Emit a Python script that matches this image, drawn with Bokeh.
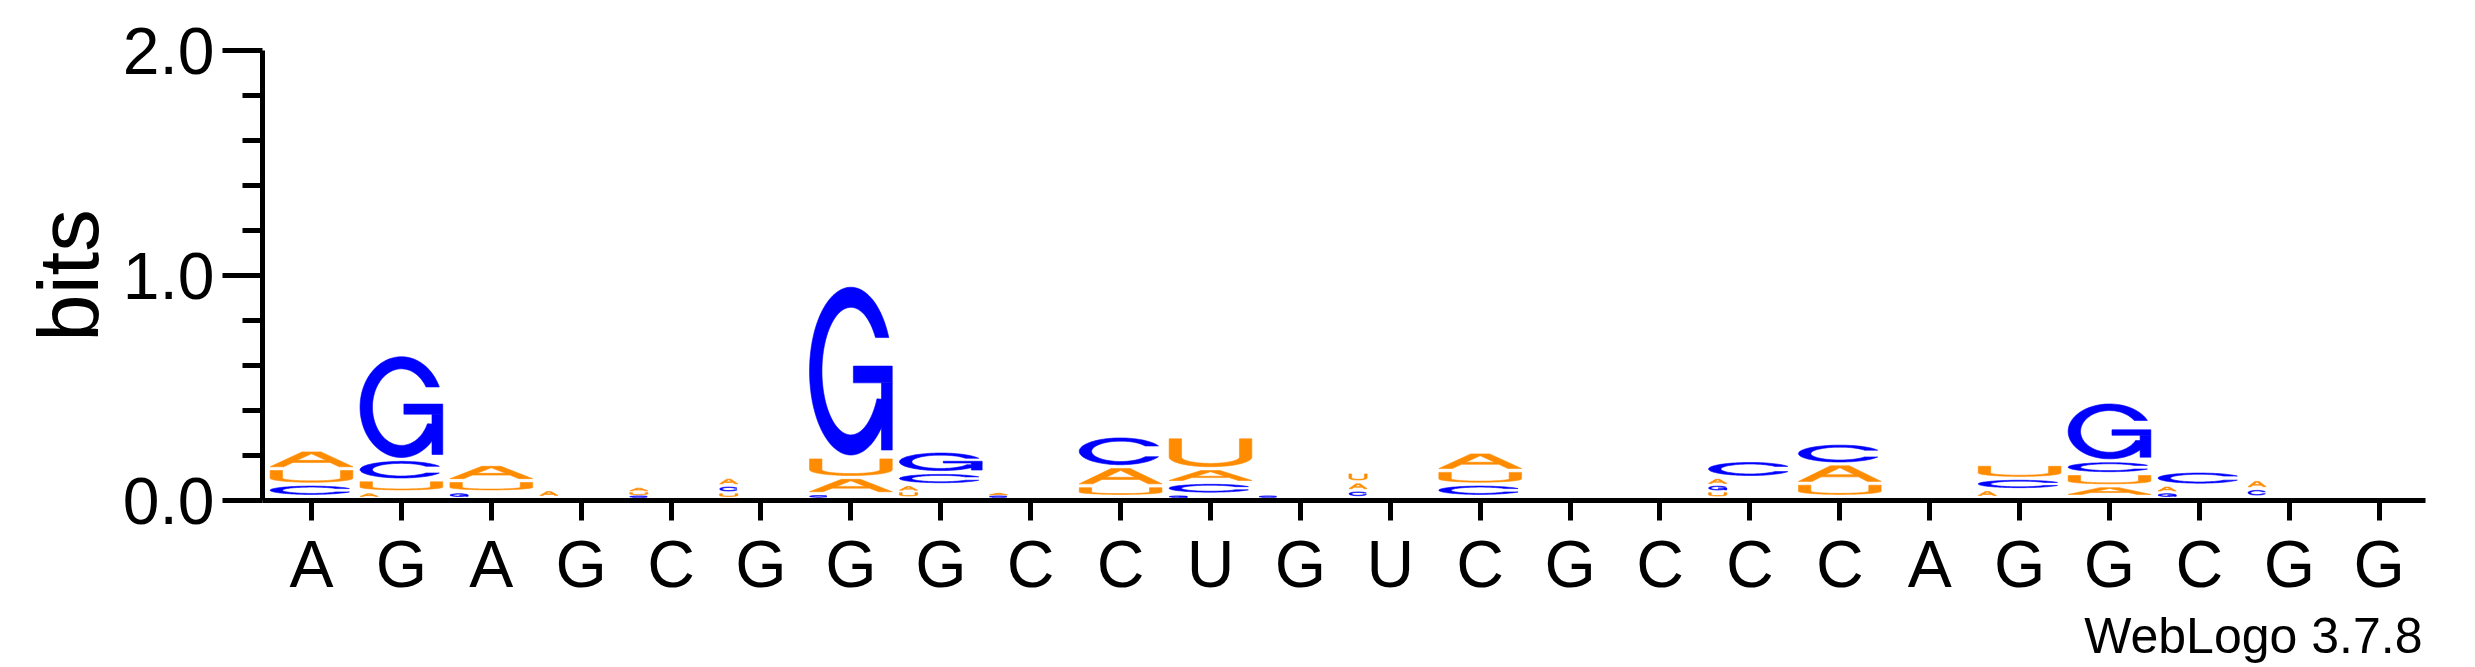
import numpy as np
from bokeh.plotting import figure
from bokeh.models import FixedTicker, PrintfTickFormatter, ColumnDataSource, LinearAxis
from bokeh.embed import file_html
from bokeh.resources import INLINE

# ---------------- data (bits per letter per position) ----------------
sequence = list("AGAGCGGGCCUGUCGCCCAGGCGG")
positions = list(range(1, 25))
bits_A = [0.083, 0.020, 0.072, 0.030, 0.020, 0.035, 0.072, 0.027, 0.012, 0.085, 0.061, 0.0,
          0.036, 0.082, 0.0, 0.0, 0.030, 0.086, 0.0, 0.030, 0.047, 0.030, 0.040, 0.0]
bits_C = [0.054, 0.091, 0.0, 0.0, 0.010, 0.030, 0.012, 0.054, 0.010, 0.136, 0.052, 0.010,
          0.028, 0.054, 0.0, 0.0, 0.075, 0.092, 0.0, 0.050, 0.057, 0.062, 0.035, 0.0]
bits_G = [0.0, 0.465, 0.020, 0.0, 0.0, 0.0, 0.763, 0.095, 0.0, 0.0, 0.010, 0.0,
          0.0, 0.0, 0.0, 0.0, 0.029, 0.0, 0.0, 0.0, 0.261, 0.020, 0.0, 0.0]
bits_U = [0.069, 0.053, 0.050, 0.0, 0.015, 0.020, 0.091, 0.025, 0.0, 0.047, 0.141, 0.0,
          0.044, 0.061, 0.0, 0.0, 0.025, 0.058, 0.0, 0.062, 0.054, 0.0, 0.0, 0.0]
letter_colors = {"A": "#FF8C00", "U": "#FF8C00", "C": "#0000FF", "G": "#0000FF"}
credit_text = "WebLogo 3.7.8"

# ---------------- letter outline templates in a unit box ----------------
def arc(cx, cy, rx, ry, t0, t1, n=80):
    t = np.linspace(t0, t1, n)
    return cx + rx * np.cos(t), cy + ry * np.sin(t)

def ring_polygon(yt, end_o, end_i, tx=0.15, ty=0.12):
    rxi, ryi = 0.5 - tx, 0.5 - ty
    to1 = np.arcsin((yt - 0.5) / 0.5)
    ti1 = np.arcsin((yt - 0.5) / ryi)
    ox, oy = arc(0.5, 0.5, 0.5, 0.5, to1, end_o)
    ix, iy = arc(0.5, 0.5, rxi, ryi, end_i, ti1)
    return [(np.r_[ox, ix], np.r_[oy, iy])]

def glyph_C():
    yt, yb = 0.70, 0.30
    ryi = 0.5 - 0.12
    end_o = 2 * np.pi - np.arcsin((0.5 - yb) / 0.5)
    end_i = 2 * np.pi - np.arcsin((0.5 - yb) / ryi)
    return [ring_polygon(yt, end_o, end_i)]

def glyph_G():
    ring = ring_polygon(0.70, 2 * np.pi - 0.35, 2 * np.pi - 0.45)
    stem = [(np.array([0.87, 1.0, 1.0, 0.87]), np.array([0.03, 0.03, 0.43, 0.43]))]
    bar = [(np.array([0.53, 1.0, 1.0, 0.53]), np.array([0.43, 0.43, 0.53, 0.53]))]
    return [ring, stem, bar]

def glyph_A():
    outer = (np.array([0.0, 0.385, 0.615, 1.0, 0.835, 0.725, 0.275, 0.165]),
             np.array([0.0, 1.0, 1.0, 0.0, 0.0, 0.29, 0.29, 0.0]))
    hole = (np.array([0.325, 0.675, 0.5]), np.array([0.43, 0.43, 0.88]))
    return [[outer, hole]]

def glyph_U():
    tx, ty, yc = 0.15, 0.12, 0.35
    ox, oy = arc(0.5, yc, 0.5, yc, np.pi, 2 * np.pi)
    ix, iy = arc(0.5, yc, 0.5 - tx, yc - ty, 2 * np.pi, np.pi)
    xs = np.r_[0.0, ox, 1.0, 1.0 - tx, ix, tx]
    ys = np.r_[1.0, oy, 1.0, 1.0, iy, 1.0]
    return [[(xs, ys)]]

templates = {"A": glyph_A(), "C": glyph_C(), "G": glyph_G(), "U": glyph_U()}

# ---------------- build stacked glyphs through data coordinates ----------------
col_w = 0.92          # letter width as fraction of a column
narrow_w = 0.22       # very small letters are drawn narrow
base = 0.01
table = {"A": bits_A, "C": bits_C, "G": bits_G, "U": bits_U}

src = {"xs": [], "ys": [], "color": [], "letter": [], "bits": []}
for i, pos in enumerate(positions):
    stack = sorted([(table[L][i], L) for L in "ACGU" if table[L][i] > 0])
    y = base
    for h, L in stack:
        gap = min(0.017, 0.4 * h)
        y0, y1 = y + gap, y + h
        w = col_w if h >= 0.045 else col_w * narrow_w
        x0 = pos - col_w / 2
        # every separate piece of a letter is its own row (no even-odd overlap holes)
        for poly in templates[L]:
            px, py = [], []
            for (u, v) in poly:
                px.append(list(x0 + np.asarray(u) * w))
                py.append(list(y0 + np.asarray(v) * (y1 - y0)))
            src["xs"].append([px])
            src["ys"].append([py])
            src["color"].append(letter_colors[L])
            src["letter"].append(L)
            src["bits"].append(h)
        y += h

source = ColumnDataSource(src)

# ---------------- figure ----------------
font = "Liberation Sans"
p = figure(width=2475, height=667, x_range=(0.455, 24.515), y_range=(0, 2.0),
           output_backend="svg", toolbar_location=None,
           min_border_left=262, min_border_right=50, min_border_top=50, min_border_bottom=167)
p.outline_line_color = None
p.grid.visible = False
p.background_fill_color = "white"
p.border_fill_color = "white"

p.multi_polygons(xs="xs", ys="ys", fill_color="color", line_color="color",
                 line_width=0.6, source=source)

xa = p.xaxis[0]
xa.ticker = FixedTicker(ticks=positions)
xa.major_label_overrides = {pos: s for pos, s in zip(positions, sequence)}
xa.major_tick_out = 20
xa.major_tick_in = 0
xa.minor_tick_out = 0
xa.minor_tick_in = 0
xa.axis_line_width = 5
xa.major_tick_line_width = 5
xa.major_label_text_font = font
xa.major_label_text_font_size = "66px"
xa.major_label_text_color = "black"
xa.major_label_standoff = 6

ya = p.yaxis[0]
ya.ticker = FixedTicker(ticks=[0, 1, 2],
                        minor_ticks=[0.2, 0.4, 0.6, 0.8, 1.2, 1.4, 1.6, 1.8])
ya.formatter = PrintfTickFormatter(format="%.1f")
ya.major_tick_out = 40
ya.major_tick_in = 0
ya.minor_tick_out = 20
ya.minor_tick_in = 0
ya.axis_line_width = 5
ya.major_tick_line_width = 5
ya.minor_tick_line_width = 5
ya.major_label_text_font = font
ya.major_label_text_font_size = "66px"
ya.major_label_text_color = "black"
ya.major_label_standoff = 8
ya.axis_label = "bits"
ya.axis_label_text_font = font
ya.axis_label_text_font_size = "85px"
ya.axis_label_text_font_style = "normal"
ya.axis_label_text_color = "black"
ya.axis_label_standoff = 4

# credit line under the position labels, right-aligned with the axis end
credit_pos = 22.6
credit_axis = LinearAxis(ticker=FixedTicker(ticks=[credit_pos]),
                         major_label_overrides={credit_pos: credit_text},
                         axis_line_color=None, major_tick_line_color=None,
                         minor_tick_line_color=None, major_tick_out=0, major_tick_in=0,
                         major_label_standoff=4,
                         major_label_text_font=font, major_label_text_font_size="50px",
                         major_label_text_color="black")
p.add_layout(credit_axis, "below")

open("out.html", "w").write(file_html(p, INLINE))
